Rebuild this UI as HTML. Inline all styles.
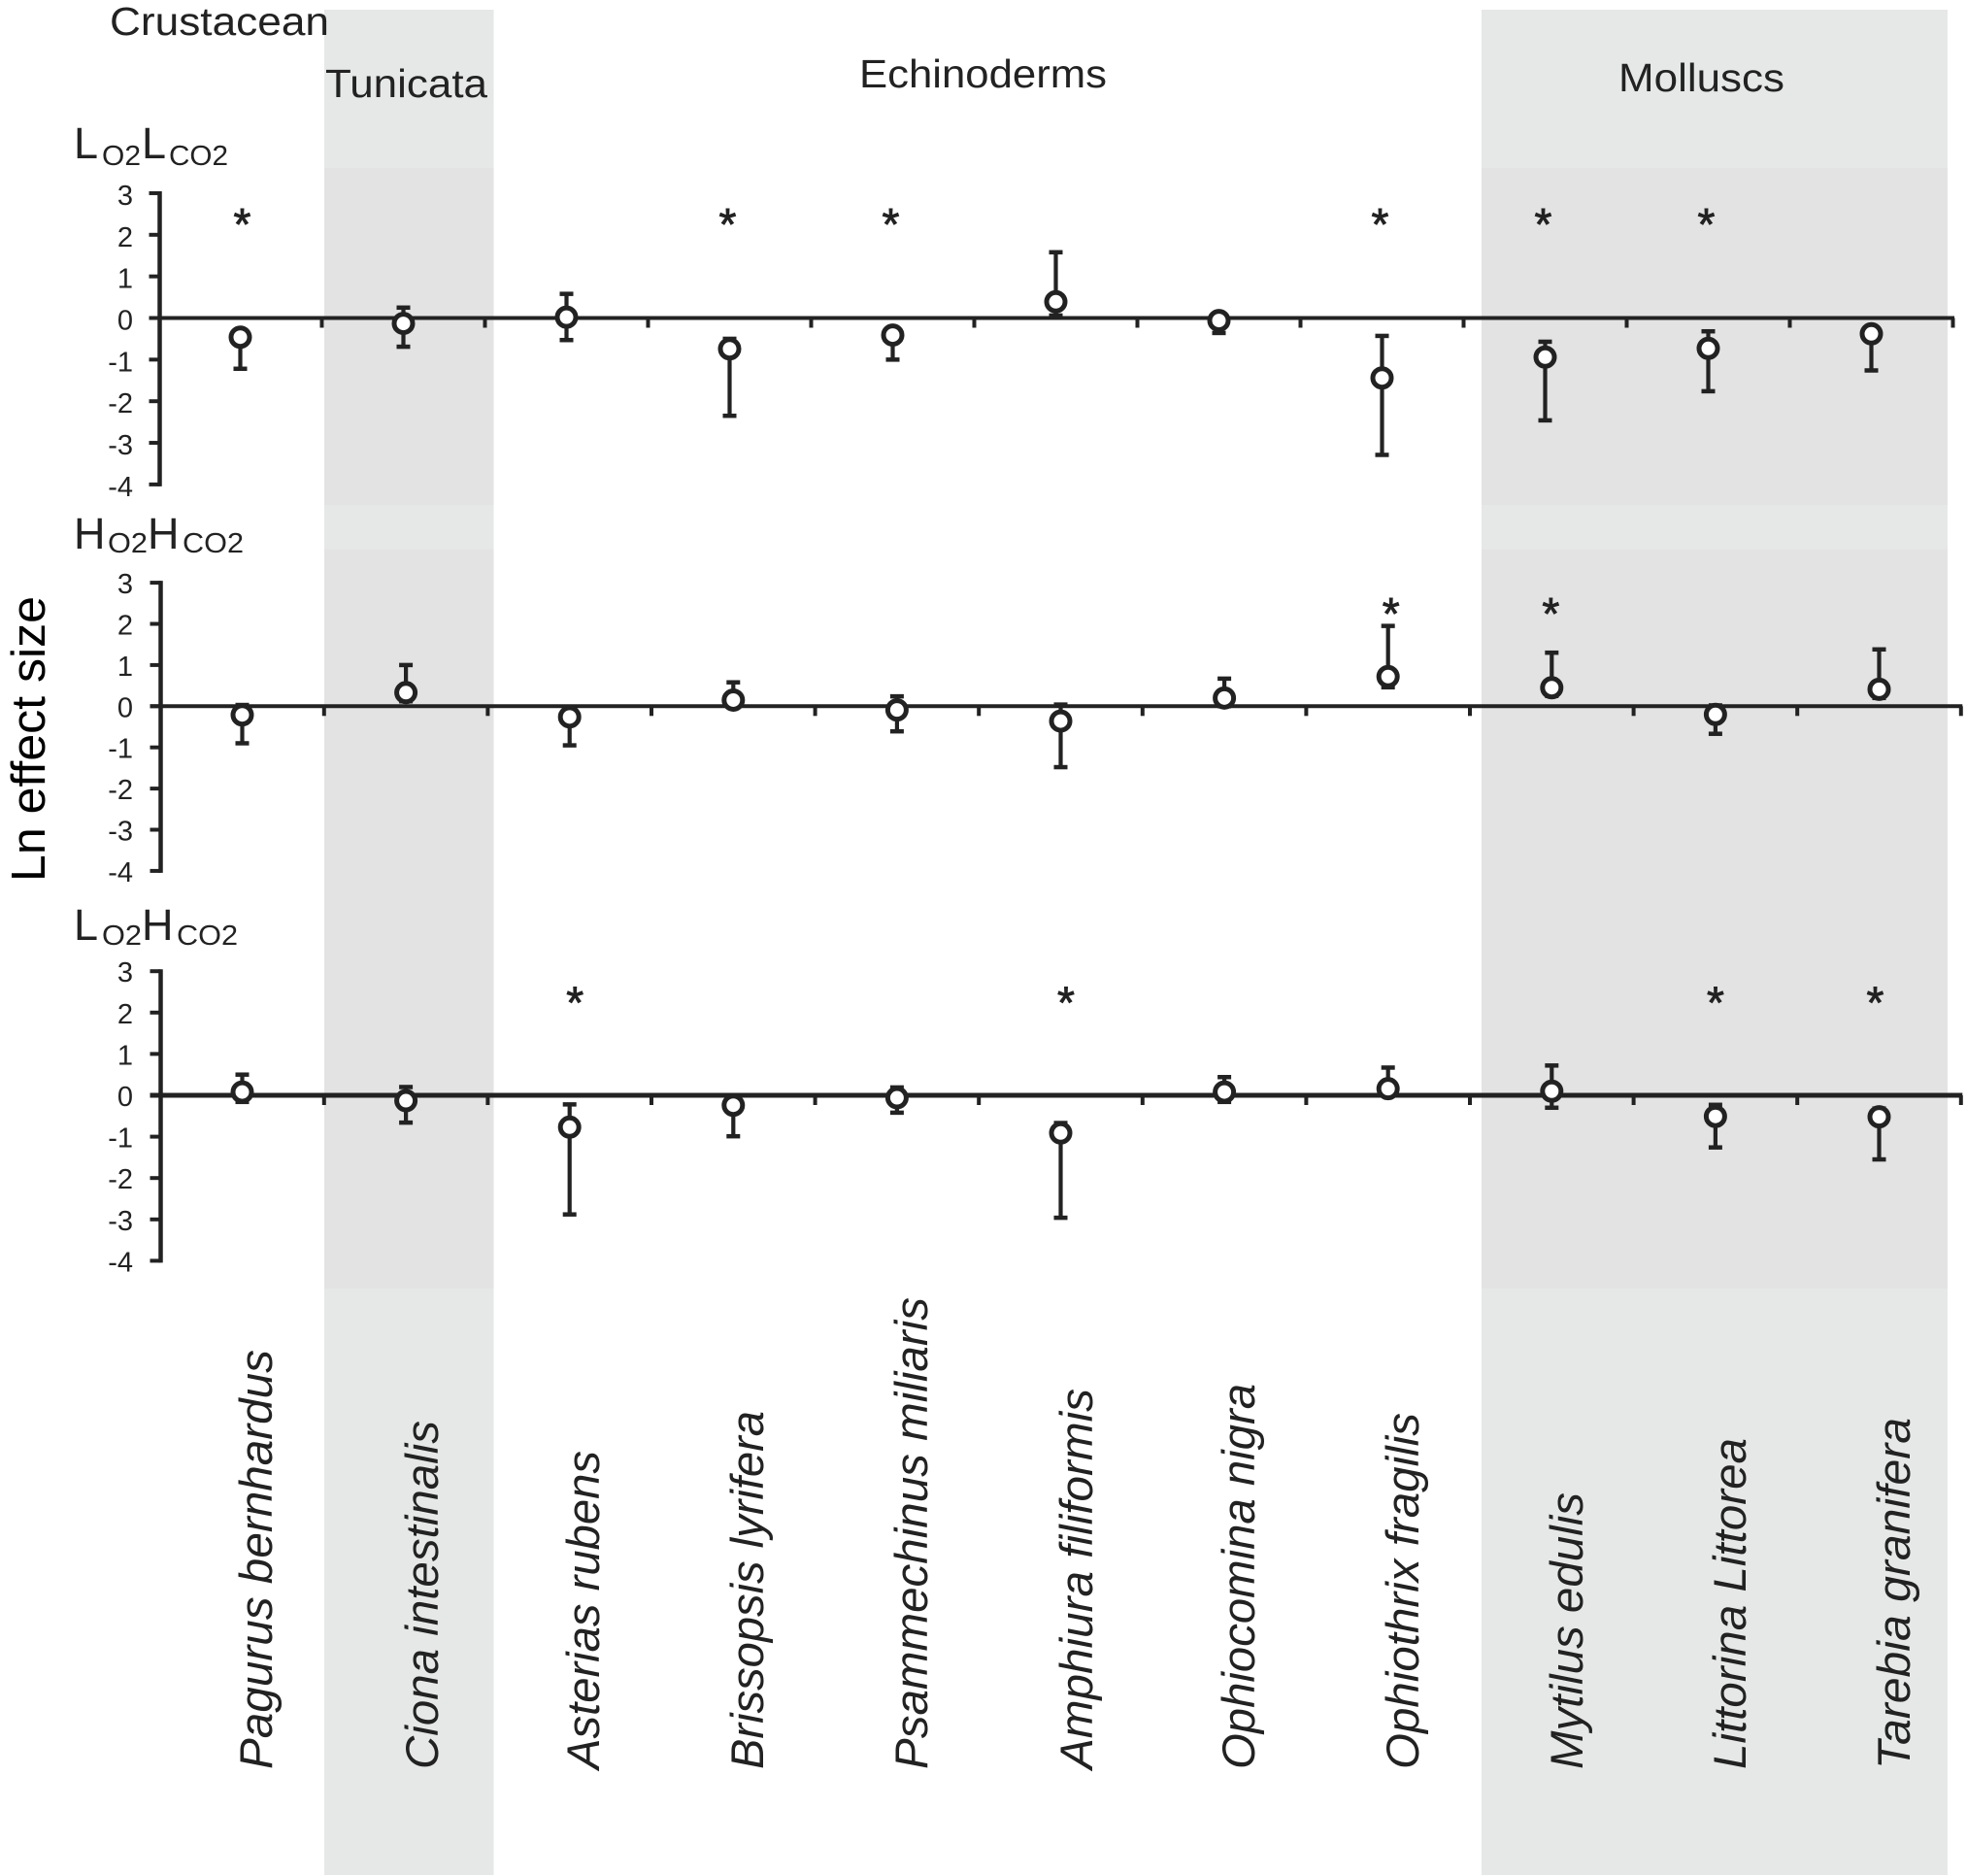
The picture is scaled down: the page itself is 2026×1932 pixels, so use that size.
<!DOCTYPE html>
<html lang="en">
<head>
<meta charset="utf-8">
<title>Ln effect size by species</title>
<style>
html,body{margin:0;padding:0;background:#fff;width:2026px;height:1932px;overflow:hidden}
svg{display:block}
text{font-family:"Liberation Sans",sans-serif;fill:#222}
.sp{font-size:47px;font-style:italic}
.grp{font-size:41px}
.lab{font-size:45px}
.sub{font-size:29px}
.tick{font-size:29px}
.star{font-size:46px;stroke:#222;stroke-width:0.9px}
</style>
</head>
<body>
<svg id="chart" xmlns="http://www.w3.org/2000/svg" width="2026" height="1932" viewBox="0 0 2026 1932">
  <rect width="2026" height="1932" fill="#fff"/>

  <g fill="#e3e3e3">
    <rect x="334" y="10" width="174.500" height="1921"/>
    <rect x="334" y="10" width="174.500" height="163" fill="#e6e8e8"/>
    <rect x="334" y="520" width="174.500" height="46" fill="#e6e7e7"/>
    <rect x="334" y="1327" width="174.500" height="604" fill="#e6e8e8"/>
  </g>
  <g fill="#e3e3e3">
    <rect x="1526" y="10" width="480" height="1921"/>
    <rect x="1526" y="10" width="480" height="163" fill="#e6e8e8"/>
    <rect x="1526" y="520" width="480" height="46" fill="#e6e7e7"/>
    <rect x="1526" y="1327" width="480" height="604" fill="#e6e8e8"/>
  </g>

  <text class="grp" x="113" y="36" textLength="226" lengthAdjust="spacingAndGlyphs">Crustacean</text>
  <text class="grp" x="335" y="100" textLength="167" lengthAdjust="spacingAndGlyphs">Tunicata</text>
  <text class="grp" x="885" y="90" textLength="255" lengthAdjust="spacingAndGlyphs">Echinoderms</text>
  <text class="grp" x="1667" y="94" textLength="171" lengthAdjust="spacingAndGlyphs">Molluscs</text>

  <g>
    <text class="lab" x="76" y="163">L</text>
    <text class="sub" x="105" y="170" textLength="40" lengthAdjust="spacingAndGlyphs">O2</text>
    <text class="lab" x="146" y="163">L</text>
    <text class="sub" x="174" y="170" textLength="61" lengthAdjust="spacingAndGlyphs">CO2</text>
  </g>
  <g>
    <text class="lab" x="76" y="565">H</text>
    <text class="sub" x="111" y="569" textLength="41" lengthAdjust="spacingAndGlyphs">O2</text>
    <text class="lab" x="152" y="565">H</text>
    <text class="sub" x="188" y="569" textLength="63" lengthAdjust="spacingAndGlyphs">CO2</text>
  </g>
  <g>
    <text class="lab" x="76" y="968">L</text>
    <text class="sub" x="105" y="973" textLength="41" lengthAdjust="spacingAndGlyphs">O2</text>
    <text class="lab" x="146" y="968">H</text>
    <text class="sub" x="182" y="973" textLength="63" lengthAdjust="spacingAndGlyphs">CO2</text>
  </g>

  <text transform="translate(46 908) rotate(-90)" font-size="49" style="fill:#000" textLength="294" lengthAdjust="spacingAndGlyphs">Ln effect size</text>

  <g>
    <text class="sp" transform="translate(280 1822) rotate(-90)" textLength="432" lengthAdjust="spacingAndGlyphs">Pagurus bernhardus</text>
    <text class="sp" transform="translate(451 1822) rotate(-90)" textLength="359" lengthAdjust="spacingAndGlyphs">Ciona intestinalis</text>
    <text class="sp" transform="translate(617 1822) rotate(-90)" textLength="328" lengthAdjust="spacingAndGlyphs">Asterias rubens</text>
    <text class="sp" transform="translate(786 1822) rotate(-90)" textLength="369" lengthAdjust="spacingAndGlyphs">Brissopsis lyrifera</text>
    <text class="sp" transform="translate(955 1822) rotate(-90)" textLength="486" lengthAdjust="spacingAndGlyphs">Psammechinus miliaris</text>
    <text class="sp" transform="translate(1125 1822) rotate(-90)" textLength="392" lengthAdjust="spacingAndGlyphs">Amphiura filiformis</text>
    <text class="sp" transform="translate(1292 1822) rotate(-90)" textLength="397" lengthAdjust="spacingAndGlyphs">Ophiocomina nigra</text>
    <text class="sp" transform="translate(1461 1822) rotate(-90)" textLength="367" lengthAdjust="spacingAndGlyphs">Ophiothrix fragilis</text>
    <text class="sp" transform="translate(1630 1822) rotate(-90)" textLength="285" lengthAdjust="spacingAndGlyphs">Mytilus edulis</text>
    <text class="sp" transform="translate(1798 1822) rotate(-90)" textLength="341" lengthAdjust="spacingAndGlyphs">Littorina Littorea</text>
    <text class="sp" transform="translate(1967 1822) rotate(-90)" textLength="362" lengthAdjust="spacingAndGlyphs">Tarebia granifera</text>
  </g>
</svg>
<script>
const yTickLabels = [3, 2, 1, 0, -1, -2, -3, -4];

const lo2lco2Mean = [-0.46, -0.13, 0.02, -0.74, -0.41, 0.39, -0.06, -1.44, -0.94, -0.73, -0.38];
const lo2lco2High = [-0.3, 0.25, 0.58, -0.5, -0.25, 1.58, 0.1, -0.43, -0.57, -0.32, -0.2];
const lo2lco2Low = [-1.22, -0.69, -0.53, -2.35, -1.0, 0.06, -0.36, -3.29, -2.46, -1.76, -1.26];
const lo2lco2Sig = [1, 0, 0, 1, 1, 0, 0, 1, 1, 1, 0];

const ho2hco2Mean = [-0.21, 0.33, -0.26, 0.15, -0.09, -0.36, 0.2, 0.72, 0.45, -0.2, 0.41];
const ho2hco2High = [0.03, 1.0, -0.05, 0.58, 0.24, 0.04, 0.67, 1.95, 1.3, 0.02, 1.38];
const ho2hco2Low = [-0.9, 0.12, -0.95, 0.0, -0.61, -1.48, 0.0, 0.46, 0.25, -0.67, 0.2];
const ho2hco2Sig = [0, 0, 0, 0, 0, 0, 0, 1, 1, 0, 0];

const lo2hco2Mean = [0.08, -0.13, -0.77, -0.24, -0.06, -0.91, 0.08, 0.16, 0.1, -0.51, -0.52];
const lo2hco2High = [0.5, 0.2, -0.22, -0.02, 0.19, -0.67, 0.44, 0.67, 0.72, -0.23, -0.32];
const lo2hco2Low = [-0.16, -0.66, -2.88, -0.99, -0.42, -2.96, -0.16, 0.0, -0.3, -1.26, -1.55];
const lo2hco2Sig = [0, 0, 1, 0, 0, 1, 0, 0, 0, 1, 1];

const starLevel = 2.4;

const svgNS = 'http://www.w3.org/2000/svg';
const chart = document.getElementById('chart');
const INK = '#222';

function make(tag, attrs, parent) {
  const el = document.createElementNS(svgNS, tag);
  for (const k in attrs) el.setAttribute(k, attrs[k]);
  parent.appendChild(el);
  return el;
}

function drawPanel(cfg) {
  const yScale = function (v) { return cfg.zero - v * cfg.unit; };
  const xScale = function (i) { return cfg.xStart + i * cfg.xStep; };

  const g = make('g', {}, chart);
  
  

  const spine = make('line', {x1: cfg.spineX, x2: cfg.spineX, y1: yScale(yTickLabels[0]) - 2, y2: yScale(yTickLabels[yTickLabels.length - 1]) + 2, stroke: INK, 'stroke-width': 4.5}, g);
  
  

  yTickLabels.forEach(function (t) {
    const mark = make('line', {x1: cfg.spineX - 11, x2: cfg.spineX, y1: yScale(t), y2: yScale(t), stroke: INK, 'stroke-width': 4}, g);
    
    
    const lab = make('text', {x: 137, y: yScale(t) + cfg.labelDy, 'text-anchor': 'end', 'class': 'tick'}, g);
    lab.textContent = String(t);
    
    
  });

  const axis = make('line', {x1: cfg.spineX - 11, x2: cfg.xStart + 10.5 * cfg.xStep + 1.5, y1: cfg.zero, y2: cfg.zero, stroke: INK, 'stroke-width': cfg.axisWidth}, g);
  
  

  for (let k = 0; k < cfg.mean.length; k++) {
    const tx = xScale(k) + cfg.xStep / 2;
    const tk = make('line', {x1: tx, x2: tx, y1: cfg.zero, y2: cfg.zero + 10, stroke: INK, 'stroke-width': 4}, g);
    
    
  }

  cfg.mean.forEach(function (m, i) {
    const cx = xScale(i);
    const bar = make('line', {x1: cx, x2: cx, y1: yScale(cfg.high[i]), y2: yScale(cfg.low[i]), stroke: INK, 'stroke-width': 4.2}, g);
    
    
    const capHi = make('line', {x1: cx - 7, x2: cx + 7, y1: yScale(cfg.high[i]), y2: yScale(cfg.high[i]), stroke: INK, 'stroke-width': 4.5}, g);
    
    
    const capLo = make('line', {x1: cx - 7, x2: cx + 7, y1: yScale(cfg.low[i]), y2: yScale(cfg.low[i]), stroke: INK, 'stroke-width': 4.5}, g);
    
    
    const dot = make('circle', {cx: cx, cy: yScale(m), r: 9.5, fill: '#fff', stroke: INK, 'stroke-width': 5}, g);
    
    
    if (cfg.sig[i]) {
      const star = make('text', {x: cx + cfg.starShift(i), y: yScale(starLevel) + 22.5, 'text-anchor': 'middle', 'class': 'star'}, g);
      star.textContent = '*';
      
      
    }
  });
}

drawPanel({
  name: 'panel-lo2lco2', zero: 327.5, unit: 42.85, xStart: 247.5, xStep: 168, spineX: 164.5, labelDy: 12, axisWidth: 4,
  mean: lo2lco2Mean, high: lo2lco2High, low: lo2lco2Low, sig: lo2lco2Sig,
  starShift: function (i) { return i === 0 ? 2 : -2; }
});
drawPanel({
  name: 'panel-ho2hco2', zero: 727.3, unit: 42.4, xStart: 249.5, xStep: 168.6, spineX: 165.5, labelDy: 11, axisWidth: 4,
  mean: ho2hco2Mean, high: ho2hco2High, low: ho2hco2Low, sig: ho2hco2Sig,
  starShift: function (i) { return i === 7 ? 3 : -1; }
});
drawPanel({
  name: 'panel-lo2hco2', zero: 1128, unit: 42.6, xStart: 249.5, xStep: 168.6, spineX: 165.5, labelDy: 11, axisWidth: 5,
  mean: lo2hco2Mean, high: lo2hco2High, low: lo2hco2Low, sig: lo2hco2Sig,
  starShift: function (i) { return i < 6 ? 5.5 : (i === 10 ? -4 : 0); }
});
</script>
</body>
</html>
